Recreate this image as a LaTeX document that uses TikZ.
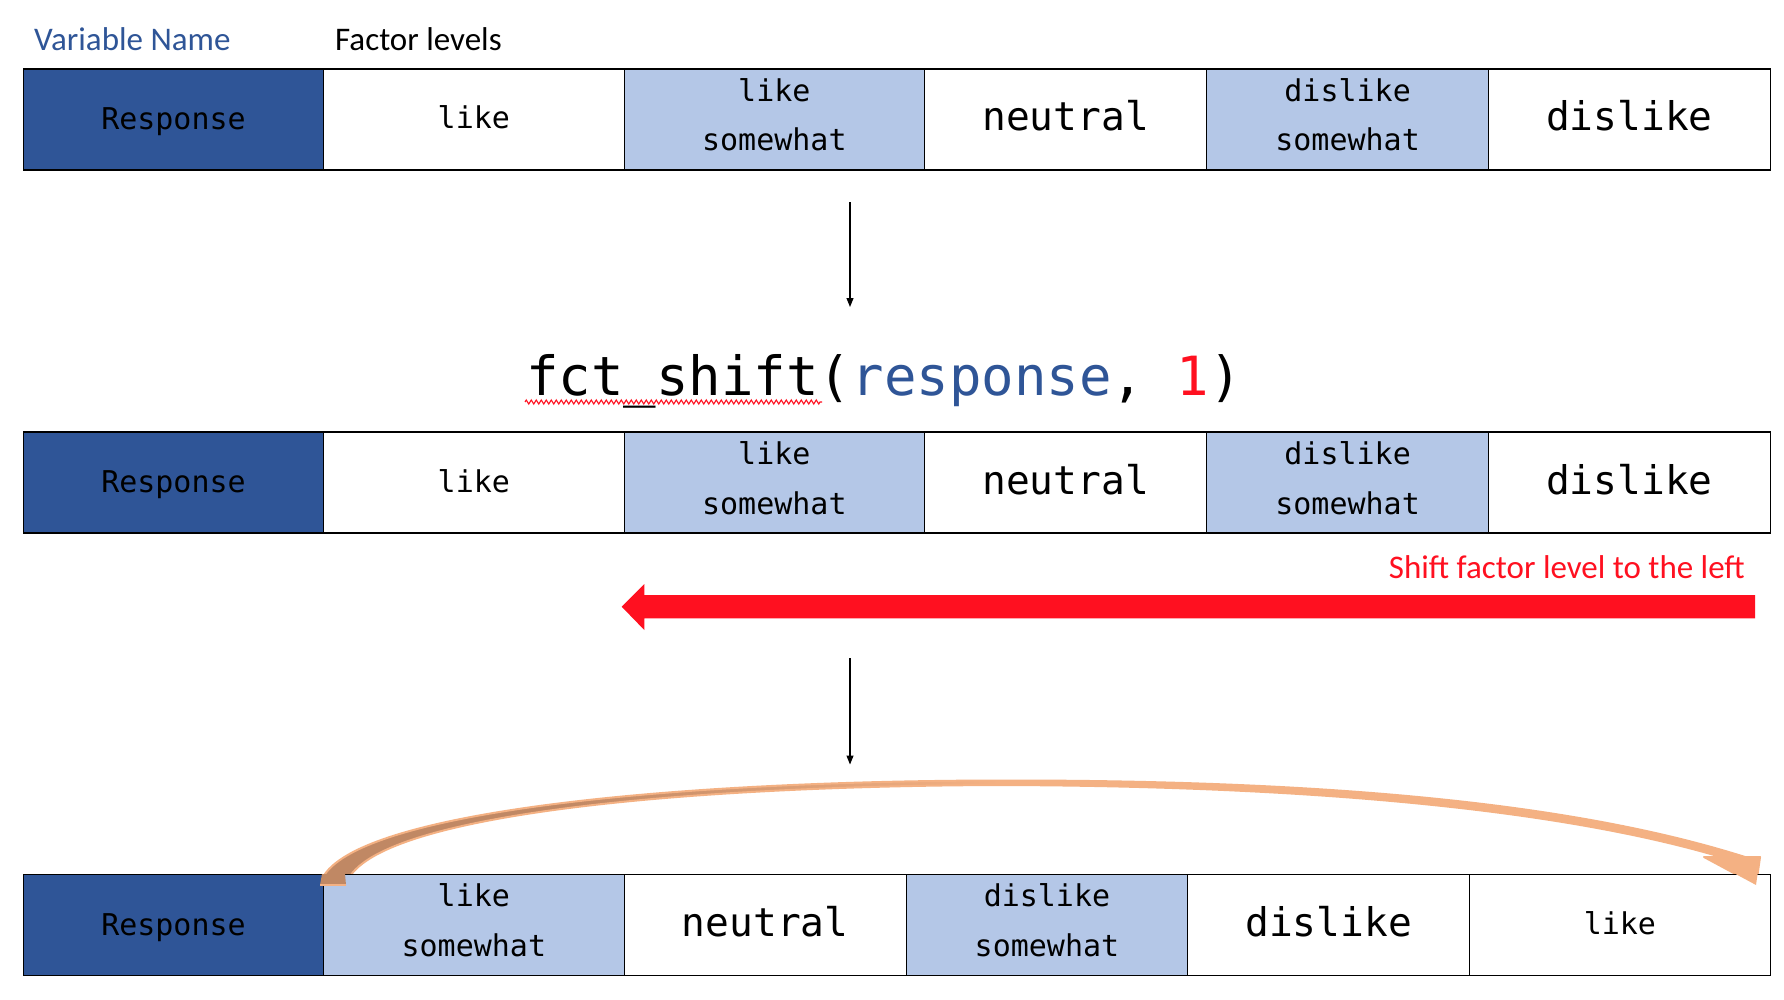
\documentclass[tikz,border=0pt]{standalone}
\usepackage{fontspec}
\newfontfamily\monofont{DejaVu Sans Mono}
\newfontfamily\calfont{Carlito}
\usetikzlibrary{arrows.meta,calc,decorations.pathmorphing}

\definecolor{deepblue}{HTML}{2F5597}
\definecolor{paleblue}{HTML}{B4C7E7}
\definecolor{alertred}{RGB}{255,16,32}
\definecolor{peach}{HTML}{F4B183}
\definecolor{peachdark}{RGB}{192,136,100}

\tikzset{
  cell/.style={draw=black, line width=1.2pt, inner sep=0pt, minimum height=101pt, anchor=west},
  headcell/.style={cell, fill=deepblue},
  palecell/.style={cell, fill=paleblue},
  plaincell/.style={cell, fill=white},
  lvl/.style={font=\monofont\fontsize{30}{36}\selectfont, anchor=base, inner sep=0pt},
  biglvl/.style={font=\monofont\fontsize{39.5}{46}\selectfont, anchor=base, inner sep=0pt},
  caption/.style={font=\calfont\fontsize{33}{40}\selectfont, inner sep=0pt},
  thinarrow/.style={line width=1.1pt, -{Triangle[length=9pt,width=7pt]}},
}

\begin{document}
\begin{tikzpicture}[x=1pt,y=-1pt]
\useasboundingbox (0,0) rectangle (1784,1000);
\fill[white] (0,0) rectangle (1784,1000);

% headings
\node[caption, anchor=base west, text=deepblue] (varname) at (34,50.7) {Variable Name};
\node[caption, anchor=base west] (levels) at (335,50.7) {Factor levels};

% ---------- first row: original order ----------
\node[headcell,  minimum width=300.2pt] (a1) at (22.8,119.5) {};
\node[plaincell, minimum width=300.5pt] (a2) at (323,119.5) {};
\node[palecell,  minimum width=300.5pt] (a3) at (623.5,119.5) {};
\node[plaincell, minimum width=282pt]   (a4) at (924,119.5) {};
\node[palecell,  minimum width=282pt]   (a5) at (1206,119.5) {};
\node[plaincell, minimum width=281.5pt] (a6) at (1488,119.5) {};

\node[lvl] (a1t) at ($(a1.center)+(0,10)$) {Response};
\node[lvl] (a2t) at ($(a2.center)+(0,9.5)$) {like};
\node[lvl] (a3t) at ($(a3.center)+(0,-17.8)$) {like};
\node[lvl] (a3u) at ($(a3.center)+(0,31.5)$) {somewhat};
\node[biglvl] (a4t) at ($(a4.center)+(0,11.5)$) {neutral};
\node[lvl] (a5t) at ($(a5.center)+(0,-17.8)$) {dislike};
\node[lvl] (a5u) at ($(a5.center)+(0,31.5)$) {somewhat};
\node[biglvl] (a6t) at ($(a6.center)+(0,11.5)$) {dislike};

\coordinate (d1s) at (850,202.5);
\coordinate (d1e) at (850,307);
\draw[thinarrow] (d1s) -- (d1e);

% ---------- function call ----------
\node[anchor=base, inner sep=0pt, font=\monofont\fontsize{54}{60}\selectfont] (code) at (884,395)
  {fct\_shift(\textcolor{deepblue}{response}, \textcolor{alertred}{1})};
\draw[alertred, line width=1.1pt, decorate,
      decoration={zigzag, segment length=5pt, amplitude=2pt}] (525,402) -- (822,402);

% ---------- second row ----------
\node[headcell,  minimum width=300.2pt] (b1) at (22.8,482.5) {};
\node[plaincell, minimum width=300.5pt] (b2) at (323,482.5) {};
\node[palecell,  minimum width=300.5pt] (b3) at (623.5,482.5) {};
\node[plaincell, minimum width=282pt]   (b4) at (924,482.5) {};
\node[palecell,  minimum width=282pt]   (b5) at (1206,482.5) {};
\node[plaincell, minimum width=281.5pt] (b6) at (1488,482.5) {};

\node[lvl] (b1t) at ($(b1.center)+(0,10)$) {Response};
\node[lvl] (b2t) at ($(b2.center)+(0,9.5)$) {like};
\node[lvl] (b3t) at ($(b3.center)+(0,-17.8)$) {like};
\node[lvl] (b3u) at ($(b3.center)+(0,31.5)$) {somewhat};
\node[biglvl] (b4t) at ($(b4.center)+(0,11.5)$) {neutral};
\node[lvl] (b5t) at ($(b5.center)+(0,-17.8)$) {dislike};
\node[lvl] (b5u) at ($(b5.center)+(0,31.5)$) {somewhat};
\node[biglvl] (b6t) at ($(b6.center)+(0,11.5)$) {dislike};

% shift annotation
\node[caption, anchor=base east, text=alertred] (shiftlbl) at (1745,578.3) {Shift factor level to the left};
\fill[alertred] (1755,595) -- (644.3,595) -- (644.3,584) -- (621.7,606.7)
  -- (644.3,630) -- (644.3,618.3) -- (1755,618.3) -- cycle;

\coordinate (d2s) at (850,658);
\coordinate (d2e) at (850,764.5);
\draw[thinarrow] (d2s) -- (d2e);

% ---------- curved arrow: first level moves to the end ----------
\def\wraparc{(320,885) .. controls (335,815) and (650,781) .. (1000,780.5)
  .. controls (1360,780) and (1590,808) .. (1745,857) -- (1760,857) -- (1756,885)
  -- (1704,857) -- (1721,857) .. controls (1580,815) and (1350,786) .. (1000,785)
  .. controls (680,786) and (365,815) .. (346,885) -- cycle}
\fill[peach] \wraparc;
\begin{scope}
  \clip \wraparc;
  \fill[peachdark] (300,700) rectangle (560,900);
  \shade[left color=peachdark, right color=peach] (559,700) rectangle (1000,900);
\end{scope}
\draw[peach, line width=2pt, line join=round] \wraparc;

% ---------- third row: shifted order ----------
\node[headcell,  minimum width=300.2pt] (c1) at (22.8,925) {};
\node[palecell,  minimum width=300.5pt] (c2) at (323,925) {};
\node[plaincell, minimum width=282.2pt] (c3) at (623.5,925) {};
\node[palecell,  minimum width=281.3pt] (c4) at (905.7,925) {};
\node[plaincell, minimum width=282pt]   (c5) at (1187,925) {};
\node[plaincell, minimum width=300.5pt] (c6) at (1469,925) {};

\node[lvl] (c1t) at ($(c1.center)+(0,10)$) {Response};
\node[lvl] (c2t) at ($(c2.center)+(0,-18.3)$) {like};
\node[lvl] (c2u) at ($(c2.center)+(0,31.7)$) {somewhat};
\node[biglvl] (c3t) at ($(c3.center)+(0,11.7)$) {neutral};
\node[lvl] (c4t) at ($(c4.center)+(0,-18.3)$) {dislike};
\node[lvl] (c4u) at ($(c4.center)+(0,31.7)$) {somewhat};
\node[biglvl] (c5t) at ($(c5.center)+(0,11.7)$) {dislike};
\node[lvl] (c6t) at ($(c6.center)+(0,9.5)$) {like};

% arrow ends sit on top of the row border
\fill[peach] (1745,857) -- (1760,857) -- (1756,885) -- (1704,857) -- cycle;
\fill[peachdark] (320,885) .. controls (321,879) .. (322,874) -- (345,874) .. controls (345.5,879) .. (346,885) -- cycle;
\draw[peach, line width=2pt] (320,885) -- (346,885);
\end{tikzpicture}
\end{document}
